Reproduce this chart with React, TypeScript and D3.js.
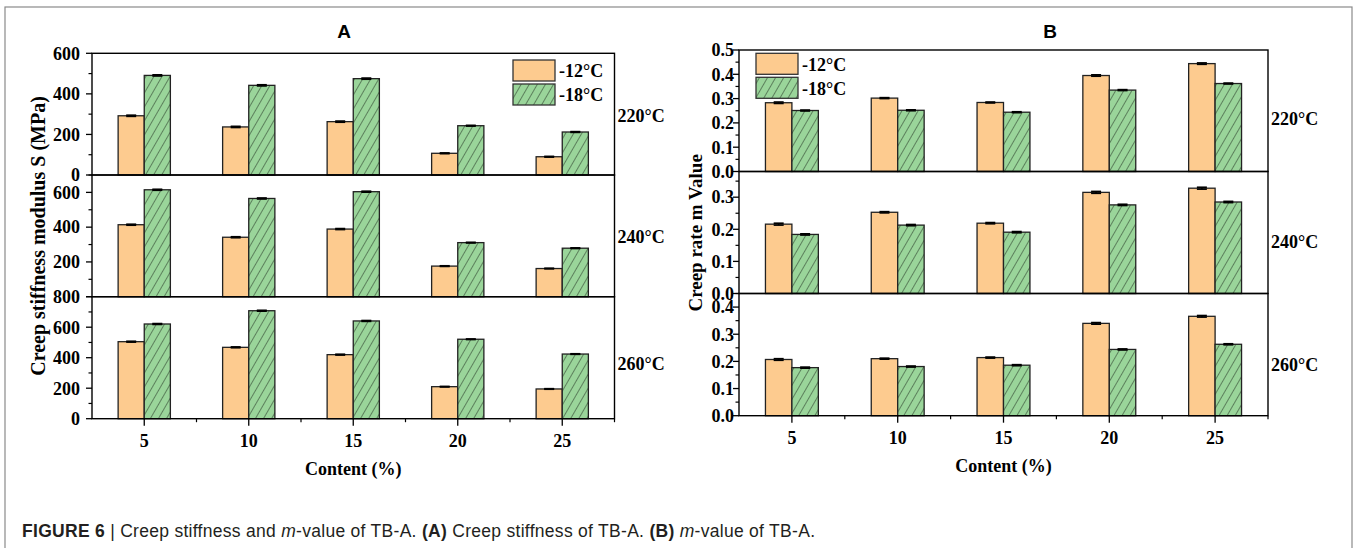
import React from 'react';
import * as d3 from 'd3';

const categories = ['5', '10', '15', '20', '25'];
const seriesNames = ['-12°C', '-18°C'];
const tempLabels = ['220°C', '240°C', '260°C'];

// Panel A: creep stiffness S (MPa)
const stiff12_220 = [292, 237, 263, 107, 90];
const stiff18_220 = [491, 442, 475, 243, 212];
const stiff12_240 = [414, 342, 389, 176, 162];
const stiff18_240 = [615, 565, 604, 311, 279];
const stiff12_260 = [505, 468, 420, 210, 195];
const stiff18_260 = [621, 708, 641, 521, 424];
const stiffErr12 = [3, 3, 3, 2, 2];
const stiffErr18 = [3, 3, 3, 2, 2];
const stiffAxisMax = [600, 700, 800];
const stiffTickStep = 200;

// Panel B: m-value
const m12_220 = [0.283, 0.302, 0.284, 0.395, 0.444];
const m18_220 = [0.251, 0.252, 0.244, 0.335, 0.362];
const m12_240 = [0.216, 0.253, 0.219, 0.315, 0.328];
const m18_240 = [0.184, 0.213, 0.191, 0.276, 0.285];
const m12_260 = [0.207, 0.210, 0.214, 0.340, 0.366];
const m18_260 = [0.177, 0.181, 0.186, 0.244, 0.263];
const mErr12 = [0.003, 0.002, 0.002, 0.003, 0.003];
const mErr18 = [0.002, 0.002, 0.002, 0.002, 0.002];
const mAxisMax = [0.5, 0.38, 0.45];
const mTickStep = 0.1;

const ORANGE = '#FDCB8F';
const GREEN = '#9AD59A';
const SERIF = '"Liberation Serif", "Times New Roman", serif';
const SANS = '"Liberation Sans", Arial, sans-serif';

type PanelProps = {
  title: string;
  titleX: number;
  left: number;
  right: number;
  tops: number[];
  bottom: number;
  maxes: number[];
  step: number;
  s12: number[][];
  s18: number[][];
  e12: number[];
  e18: number[];
  fmt: (v: number) => string;
  hideLabels: number[][];
  labelGap: number;
  yLabel: string;
  yLabelX: number;
  yLabelSize: number;
  tempY: number[];
  legendX: number;
  legendY: number;
};

function Panel(p: PanelProps) {
  const x = d3.scaleBand<string>().domain(categories).range([p.left, p.right]).padding(0);
  const bw = x.bandwidth();
  const barW = bw * 0.25;
  const bottoms = [p.tops[1], p.tops[2], p.bottom];
  const plotBottom = p.bottom;
  const cx = (p.left + p.right) / 2;

  return (
    <g>
      <text x={p.titleX} y={38} fontFamily={SANS} fontWeight="bold" fontSize={19} textAnchor="middle">{p.title}</text>
      {p.maxes.map((mx, i) => {
        const y = d3.scaleLinear().domain([0, mx]).range([bottoms[i], p.tops[i]]);
        const nMajor = Math.floor(mx / p.step + 1e-9);
        const majors = d3.range(0, nMajor + 1).map((k) => k * p.step);
        const nMinor = Math.floor(mx / (p.step / 2) + 1e-9);
        const minors = d3.range(0, nMinor + 1).map((k) => k * p.step / 2).filter((_, k) => k % 2 === 1);
        const v12 = p.s12[i];
        const v18 = p.s18[i];
        return (
          <g key={i}>
            {categories.map((c, j) => {
              const c0 = (x(c) as number) + bw / 2;
              return (
                <g key={c}>
                  <rect x={c0 - barW} y={y(v12[j])} width={barW} height={bottoms[i] - y(v12[j])} fill={ORANGE} stroke="#222" strokeWidth={1.3} />
                  <rect x={c0} y={y(v18[j])} width={barW} height={bottoms[i] - y(v18[j])} fill="url(#hatch)" stroke="#222" strokeWidth={1.3} />
                  {[[c0 - barW / 2, v12[j], p.e12[j]], [c0 + barW / 2, v18[j], p.e18[j]]].map(([ex, v, e], k) => (
                    <g key={k} stroke="#000" strokeWidth={1.6}>
                      <line x1={ex} x2={ex} y1={y(v + e)} y2={y(v - e)} />
                      <line x1={ex - 5} x2={ex + 5} y1={y(v + e)} y2={y(v + e)} />
                      <line x1={ex - 5} x2={ex + 5} y1={y(v - e)} y2={y(v - e)} />
                    </g>
                  ))}
                </g>
              );
            })}
            {majors.map((t) => (
              <g key={'M' + t}>
                <line x1={p.left - 6} x2={p.left} y1={y(t)} y2={y(t)} stroke="#000" strokeWidth={1.3} />
                {!p.hideLabels[i].includes(t) && (
                  <text x={p.left - p.labelGap} y={y(t)} dy="0.35em" textAnchor="end" fontFamily={SERIF} fontWeight="bold" fontSize={18}>{p.fmt(t)}</text>
                )}
              </g>
            ))}
            {minors.map((t) => (
              <line key={'m' + t} x1={p.left - 3.5} x2={p.left} y1={y(t)} y2={y(t)} stroke="#000" strokeWidth={1.2} />
            ))}
            <rect x={p.left} y={p.tops[i]} width={p.right - p.left} height={bottoms[i] - p.tops[i]} fill="none" stroke="#000" strokeWidth={1.4} />
            <text x={p.right + 3} y={p.tempY[i]} dy="0.35em" fontFamily={SERIF} fontWeight="bold" fontSize={18}>{tempLabels[i]}</text>
          </g>
        );
      })}
      {categories.map((c) => {
        const c0 = (x(c) as number) + bw / 2;
        return (
          <g key={'x' + c}>
            <line x1={c0} x2={c0} y1={plotBottom} y2={plotBottom + 7} stroke="#000" strokeWidth={1.3} />
            <text x={c0} y={plotBottom + 22} dy="0.35em" textAnchor="middle" fontFamily={SERIF} fontWeight="bold" fontSize={18}>{c}</text>
          </g>
        );
      })}
      {categories.slice(1).map((c) => (
        <line key={'xm' + c} x1={x(c) as number} x2={x(c) as number} y1={plotBottom} y2={plotBottom + 3.5} stroke="#000" strokeWidth={1.2} />
      ))}
      <line x1={p.right} x2={p.right} y1={plotBottom} y2={plotBottom + 3.5} stroke="#000" strokeWidth={1.2} />
      <text x={cx} y={plotBottom + 50} dy="0.35em" textAnchor="middle" fontFamily={SERIF} fontWeight="bold" fontSize={18}>Content (%)</text>
      <text transform={`translate(${p.yLabelX},${(p.tops[0] + plotBottom) / 2}) rotate(-90)`} dy="0.35em" textAnchor="middle" fontFamily={SERIF} fontWeight="bold" fontSize={p.yLabelSize}>{p.yLabel}</text>
      {/* legend */}
      <g>
        <rect x={p.legendX} y={p.legendY} width={42} height={21} fill={ORANGE} stroke="#333" strokeWidth={1.3} />
        <rect x={p.legendX} y={p.legendY + 24} width={42} height={21} fill="url(#hatch)" stroke="#333" strokeWidth={1.3} />
        <text x={p.legendX + 46} y={p.legendY + 11} dy="0.35em" fontFamily={SERIF} fontWeight="bold" fontSize={18}>{seriesNames[0]}</text>
        <text x={p.legendX + 46} y={p.legendY + 35} dy="0.35em" fontFamily={SERIF} fontWeight="bold" fontSize={18}>{seriesNames[1]}</text>
      </g>
    </g>
  );
}

export default function App() {
  return (
    <div style={{ position: 'absolute', left: 0, top: 0 }}>
      <svg width={1359} height={548} style={{ display: 'block', background: '#fff' }}>
        <defs>
          <pattern id="hatch" patternUnits="userSpaceOnUse" width={7} height={7} patternTransform="rotate(30)">
            <rect width={7} height={7} fill={GREEN} />
            <line x1={3.5} y1={0} x2={3.5} y2={7} stroke="#4d6b4d" strokeWidth={0.8} />
          </pattern>
        </defs>
        <rect x={5} y={7} width={1347} height={600} fill="none" stroke="#8a8a8a" strokeWidth={1.2} />
        <Panel
          title="A"
          titleX={344}
          left={92}
          right={614.5}
          tops={[53.3, 175, 296.7]}
          bottom={418.7}
          maxes={stiffAxisMax}
          step={stiffTickStep}
          s12={[stiff12_220, stiff12_240, stiff12_260]}
          s18={[stiff18_220, stiff18_240, stiff18_260]}
          e12={stiffErr12}
          e18={stiffErr18}
          fmt={(v) => d3.format('d')(v)}
          hideLabels={[[], [0], []]}
          labelGap={12}
          yLabel="Creep stiffness modulus S (MPa)"
          yLabelX={38}
          yLabelSize={20}
          tempY={[115.7, 236.7, 363.3]}
          legendX={513}
          legendY={60}
        />
        <Panel
          title="B"
          titleX={1050}
          left={739}
          right={1268}
          tops={[50, 171.5, 293.5]}
          bottom={415.7}
          maxes={mAxisMax}
          step={mTickStep}
          s12={[m12_220, m12_240, m12_260]}
          s18={[m18_220, m18_240, m18_260]}
          e12={mErr12}
          e18={mErr18}
          fmt={(v) => d3.format('.1f')(v)}
          hideLabels={[[], [], []]}
          labelGap={5}
          yLabel="Creep rate m Value"
          yLabelX={695}
          yLabelSize={19}
          tempY={[118.3, 241.7, 365]}
          legendX={756}
          legendY={53.3}
        />
        <text x={22} y={536.5} fontFamily={SANS} fontSize={17.5} fill="#231f20" textLength={793} lengthAdjust="spacing">
          <tspan fontWeight="bold">FIGURE 6</tspan>
          <tspan> | Creep stiffness and </tspan>
          <tspan fontStyle="italic">m</tspan>
          <tspan>-value of TB-A. </tspan>
          <tspan fontWeight="bold">(A)</tspan>
          <tspan> Creep stiffness of TB-A. </tspan>
          <tspan fontWeight="bold">(B)</tspan>
          <tspan> </tspan>
          <tspan fontStyle="italic">m</tspan>
          <tspan>-value of TB-A.</tspan>
        </text>
      </svg>
    </div>
  );
}
